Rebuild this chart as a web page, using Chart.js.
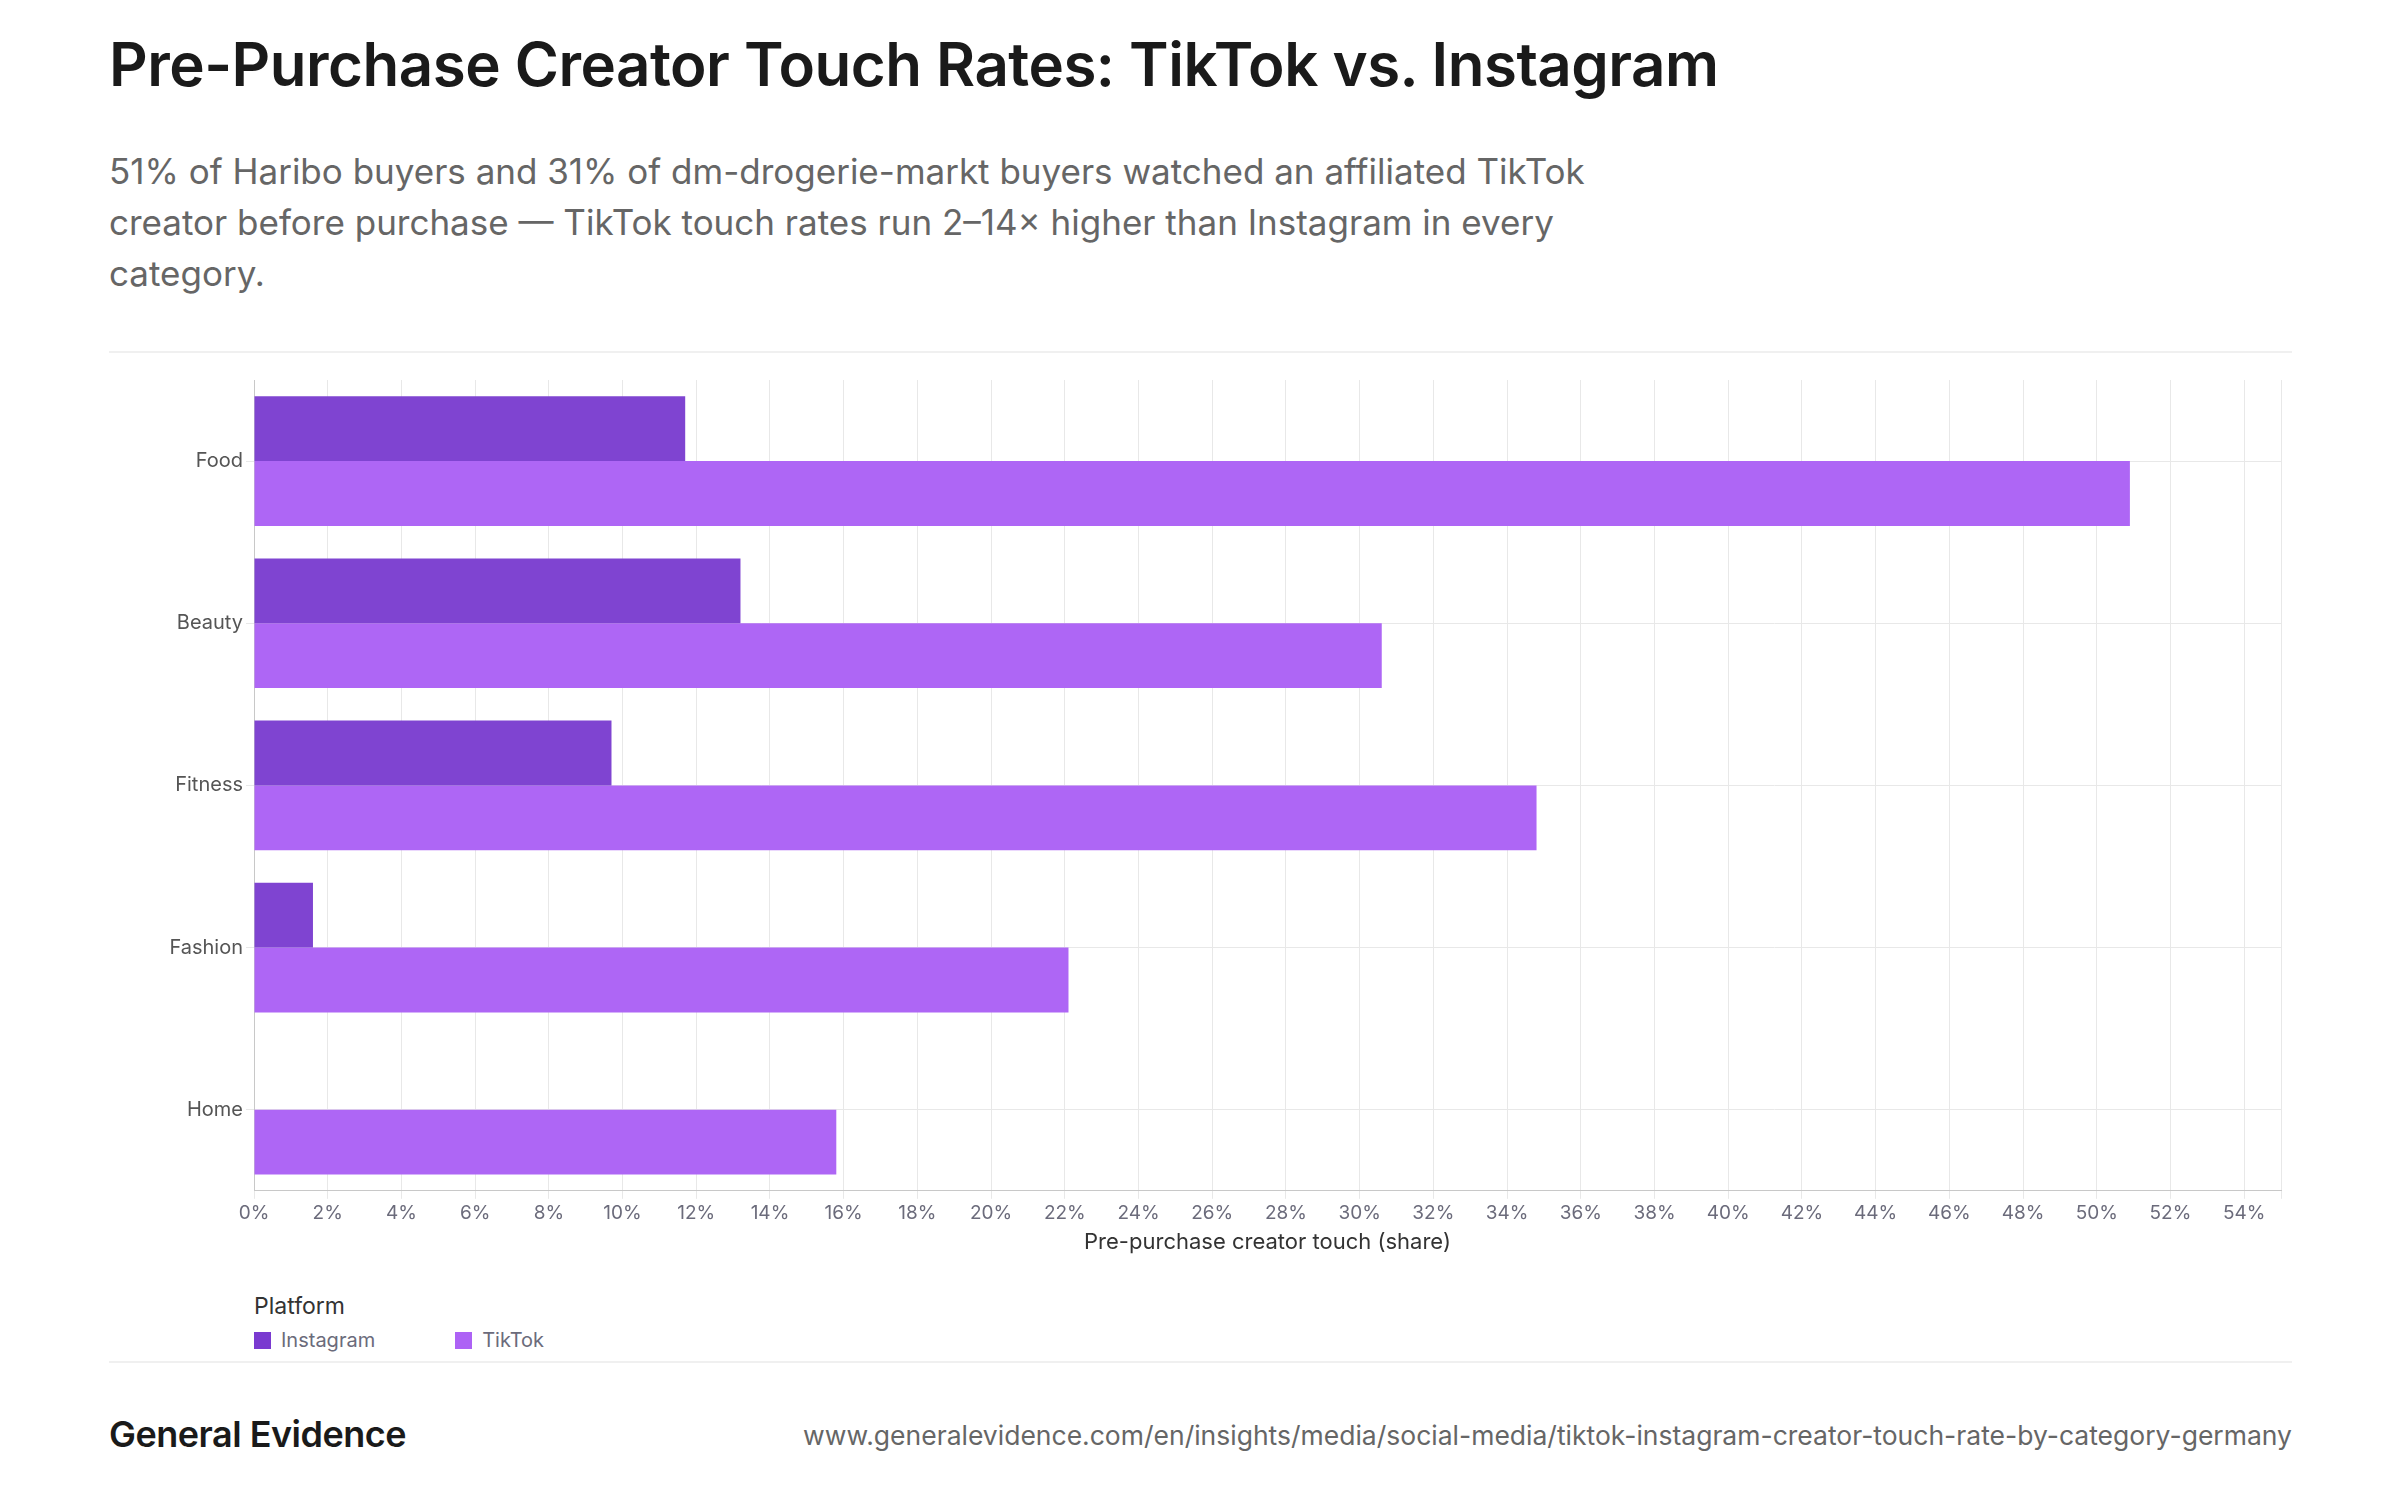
<!DOCTYPE html>
<html>
<head>
<meta charset="utf-8">
<script src="https://cdn.jsdelivr.net/npm/chart.js@4"></script>
<style>
  body { margin: 0; width: 2400px; height: 1500px; background: #fff; font-family: Inter, "Noto Sans", sans-serif; position: relative; overflow: hidden; }
  .title { position: absolute; left: 109px; top: 28px; font-size: 60px; font-weight: 600; color: #1a1a1a; letter-spacing: -0.5px; }
  .subtitle { position: absolute; left: 109px; top: 146px; width: 1560px; font-size: 35px; line-height: 51px; color: #666; }
  .rule { position: absolute; left: 109px; width: 2183px; height: 2px; background: #f0f0f0; }
  #chart-wrap { position: absolute; left: 109px; top: 365px; width: 2175px; height: 895px; }
  .legend { position: absolute; left: 254px; top: 1292px; font-size: 23px; color: #333; }
  .legend-items { margin-top: 8px; display: flex; gap: 80px; font-size: 20px; color: #6b6b7b; }
  .legend-items span { display: inline-flex; align-items: center; gap: 10px; }
  .legend-items i { width: 17px; height: 17px; display: inline-block; }
  .brand { position: absolute; left: 109px; top: 1412px; font-size: 36px; font-weight: 600; color: #1a1a1a; letter-spacing: -0.5px; }
  .url { position: absolute; right: 108px; top: 1419px; font-size: 26.5px; color: #666; }
</style>
</head>
<body>
<div class="title">Pre-Purchase Creator Touch Rates: TikTok vs. Instagram</div>
<div class="subtitle">51% of Haribo buyers and 31% of dm-drogerie-markt buyers watched an affiliated TikTok creator before purchase — TikTok touch rates run 2–14× higher than Instagram in every category.</div>
<div class="rule" style="top:351px"></div>
<div id="chart-wrap"><canvas id="chart"></canvas></div>
<div class="legend">Platform
  <div class="legend-items">
    <span><i style="background:#7a3ad0"></i>Instagram</span>
    <span><i style="background:#ad62f5"></i>TikTok</span>
  </div>
</div>
<div class="rule" style="top:1361px"></div>
<div class="brand">General Evidence</div>
<div class="url">www.generalevidence.com/en/insights/media/social-media/tiktok-instagram-creator-touch-rate-by-category-germany</div>
<script>
const categories = ["Food", "Beauty", "Fitness", "Fashion", "Home"];
const instagramValues = [11.7, 13.2, 9.7, 1.6, null];
const tiktokValues = [50.9, 30.6, 34.8, 22.1, 15.8];

new Chart(document.getElementById("chart"), {
  type: "bar",
  data: {
    labels: categories,
    datasets: [
      { label: "Instagram", data: instagramValues, backgroundColor: "#7f44d1" },
      { label: "TikTok", data: tiktokValues, backgroundColor: "#ae66f5" },
    ],
  },
  options: {
    indexAxis: "y",
    responsive: true,
    maintainAspectRatio: false,
    animation: false,
    categoryPercentage: 0.8,
    barPercentage: 1.0,
    layout: { padding: { top: 15, right: 0 } },
    plugins: { legend: { display: false }, tooltip: { enabled: false } },
    scales: {
      x: {
        min: 0,
        max: 55,
        ticks: {
          stepSize: 2,
          callback: (v) => (v % 2 === 0 ? v + "%" : ""),
          font: { family: "Inter", size: 19 },
          color: "#6b6b7b",
          maxRotation: 0,
          autoSkip: false,
        },
        grid: { color: "#e8e8e8" },
        border: { color: "#c8c8c8" },
        title: { display: true, text: "Pre-purchase creator touch (share)", font: { family: "Inter", size: 22 }, color: "#333", padding: { top: 2 } },
      },
      y: {
        afterFit: (axis) => { axis.width = 145; },
        ticks: { font: { family: "Inter", size: 20 }, color: "#555" },
        grid: { color: "#e8e8e8", offset: false },
        border: { color: "#c8c8c8" },
      },
    },
  },
});
</script>
</body>
</html>
